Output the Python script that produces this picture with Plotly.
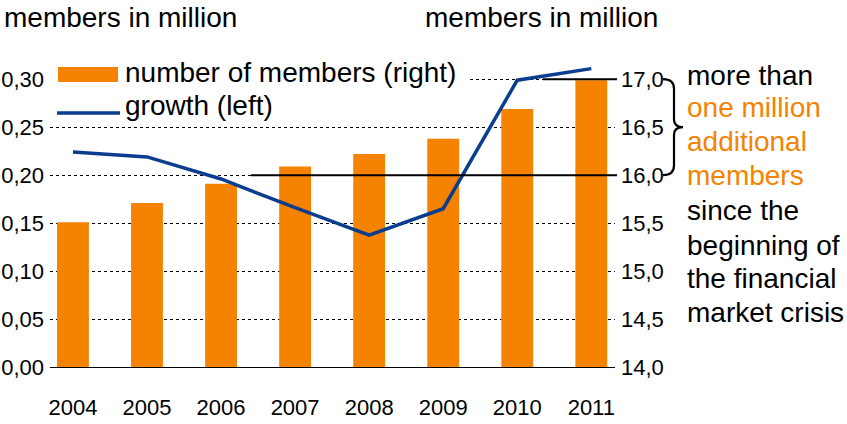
import plotly.graph_objects as go

# ---------------- data ----------------
years = ["2004", "2005", "2006", "2007", "2008", "2009", "2010", "2011"]
members_million = [15.51, 15.71, 15.91, 16.09, 16.22, 16.38, 16.69, 16.99]   # right axis (bars)
growth_million = [0.224, 0.219, 0.196, 0.166, 0.1375, 0.165, 0.299, 0.311]   # left axis (line)

left_tickvals = [0.00, 0.05, 0.10, 0.15, 0.20, 0.25, 0.30]
left_ticktext = ["0,00", "0,05", "0,10", "0,15", "0,20", "0,25", "0,30"]
right_tickvals = [14.0, 14.5, 15.0, 15.5, 16.0, 16.5, 17.0]
right_ticktext = ["14,0", "14,5", "15,0", "15,5", "16,0", "16,5", "17,0"]

bracket_low = 16.0
bracket_high = 17.0

axis_title = "members in million"
legend_bars = "number of members (right)"
legend_line = "growth (left)"
note_lines = ["more than", "one million", "additional", "members",
              "since the", "beginning of", "the financial", "market crisis"]
note_colors = ["black", "orange", "orange", "orange", "black", "black", "black", "black"]

# ---------------- style ----------------
ORANGE = "#F58300"
BLUE = "#0B3D8F"
FONT = "Liberation Sans, Arial, sans-serif"
W, H = 847, 424
L, R, T, B = 50, 232, 60, 57
PW, PH = W - L - R, H - T - B


def px(x):
    return (x - L) / PW


def py(y):
    return (H - B - y) / PH


fig = go.Figure()

fig.add_trace(go.Bar(
    x=years, y=members_million, yaxis="y", marker=dict(color=ORANGE, line=dict(width=0)),
    width=0.43, name=legend_bars, showlegend=False,
))
fig.add_trace(go.Scatter(
    x=years, y=growth_million, yaxis="y2", mode="lines",
    line=dict(color=BLUE, width=3.5), name=legend_line, showlegend=False,
))

fig.update_layout(
    width=W, height=H,
    margin=dict(l=L, r=R, t=T, b=B, autoexpand=False),
    paper_bgcolor="white", plot_bgcolor="white",
    font=dict(family=FONT, color="black", size=22),
    xaxis=dict(
        type="category", range=[-0.31, 7.32], automargin=False,
        showline=True, linecolor="black", linewidth=1.3,
        showgrid=False, zeroline=False, ticks="",
        tickfont=dict(size=22), ticklabelstandoff=20,
    ),
    yaxis=dict(
        side="right", range=[14.0, 17.2], automargin=False,
        tickvals=right_tickvals, ticktext=right_ticktext,
        showgrid=True, gridcolor="black", gridwidth=1, griddash="3px,3px",
        zeroline=False, showline=False, ticks="", ticklabelstandoff=5,
        tickfont=dict(size=22),
    ),
    yaxis2=dict(
        side="left", overlaying="y", range=[0.0, 0.32], automargin=False,
        tickvals=left_tickvals, ticktext=left_ticktext,
        showgrid=False, zeroline=False, showline=False, ticks="", ticklabelstandoff=5,
        tickfont=dict(size=22),
    ),
    showlegend=False,
)

shapes = []
# white legend background
shapes.append(dict(type="rect", xref="paper", yref="paper", x0=px(50), x1=px(470),
                   y0=py(120), y1=py(56), fillcolor="white", line=dict(width=0), layer="above"))
# legend symbols
shapes.append(dict(type="rect", xref="paper", yref="paper", x0=px(58), x1=px(118),
                   y0=py(82), y1=py(67), fillcolor=ORANGE, line=dict(width=0), layer="above"))
shapes.append(dict(type="line", xref="paper", yref="paper", x0=px(57), x1=px(120),
                   y0=py(113), y1=py(113), line=dict(color=BLUE, width=3.5), layer="above"))
# reference lines
shapes.append(dict(type="line", xref="paper", yref="y", x0=px(251), x1=px(617),
                   y0=bracket_low, y1=bracket_low, line=dict(color="black", width=2), layer="above"))
shapes.append(dict(type="line", xref="paper", yref="y", x0=px(543), x1=px(617),
                   y0=bracket_high, y1=bracket_high, line=dict(color="black", width=2), layer="above"))
# curly brace
a, v, p = px(663), px(674), px(683)
mid = (bracket_low + bracket_high) / 2
path = (f"M {a},{bracket_high} Q {v},{bracket_high} {v},{bracket_high - 0.1} "
        f"L {v},{mid + 0.08} Q {v},{mid} {p},{mid} Q {v},{mid} {v},{mid - 0.08} "
        f"L {v},{bracket_low + 0.1} Q {v},{bracket_low} {a},{bracket_low}")
shapes.append(dict(type="path", xref="paper", yref="y", path=path,
                   line=dict(color="black", width=2.2), layer="above"))
fig.update_layout(shapes=shapes)

ann = []
ann.append(dict(text=axis_title, xref="paper", yref="paper", x=px(2), y=py(17.5),
                xanchor="left", yanchor="middle", showarrow=False, font=dict(size=28)))
ann.append(dict(text=axis_title, xref="paper", yref="paper", x=px(423), y=py(17.5),
                xanchor="left", yanchor="middle", showarrow=False, font=dict(size=28)))
ann.append(dict(text=legend_bars, xref="paper", yref="paper", x=px(123), y=py(72),
                xanchor="left", yanchor="middle", showarrow=False, font=dict(size=28)))
ann.append(dict(text=legend_line, xref="paper", yref="paper", x=px(123), y=py(106),
                xanchor="left", yanchor="middle", showarrow=False, font=dict(size=28)))
note_y = [75, 108, 141, 175, 210, 245, 278, 312]
for txt, col, yy in zip(note_lines, note_colors, note_y):
    ann.append(dict(text=txt, xref="paper", yref="paper", x=px(685), y=py(yy),
                    xanchor="left", yanchor="middle", showarrow=False,
                    font=dict(size=28, color=ORANGE if col == "orange" else "black")))
fig.update_layout(annotations=ann)

fig.write_html(
    "out.html",
    config={"displayModeBar": False},
    post_script="document.body.style.margin='0';document.body.style.padding='0';"
                "document.body.style.overflow='hidden';",
)
